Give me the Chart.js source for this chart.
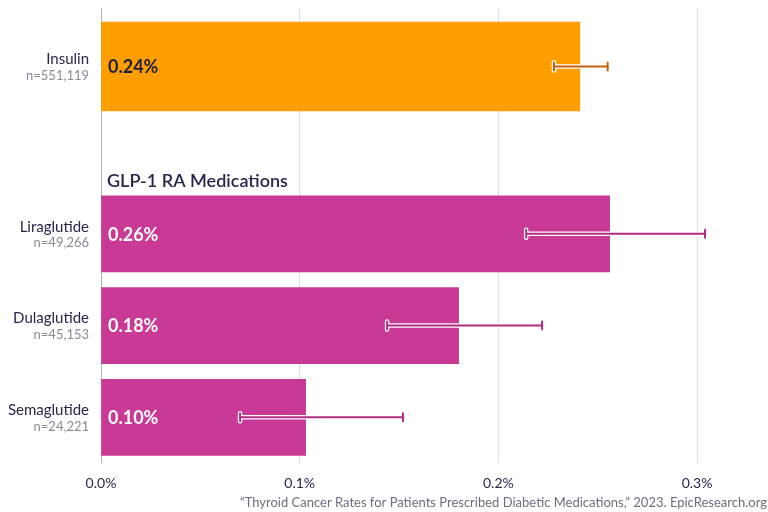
<!DOCTYPE html>
<html>
<head>
<meta charset="utf-8">
<script src="https://cdn.jsdelivr.net/npm/chart.js@4"></script>
<style>
  body { margin: 0; background: #fff; }
  #wrap { position: relative; width: 768px; height: 512px; }
  #wrap canvas { position: absolute; left: 0; }
</style>
</head>
<body>
<div id="wrap">
  <canvas id="topChart" width="768" height="188" style="top:0"></canvas>
  <canvas id="glpChart" width="768" height="324" style="top:188px"></canvas>
</div>
<script>
// Thyroid cancer rate (%) by medication, with confidence interval
const drugs = ['Insulin', 'Liraglutide', 'Dulaglutide', 'Semaglutide'];
const patients = ['n=551,119', 'n=49,266', 'n=45,153', 'n=24,221'];
const rates = [0.241, 0.256, 0.180, 0.103];
const ciLow = [0.228, 0.214, 0.144, 0.070];
const ciHigh = [0.255, 0.304, 0.222, 0.152];
const xTicks = [0, 0.1, 0.2, 0.3];
const glpTitle = 'GLP-1 RA Medications';
const source = '\u201cThyroid Cancer Rates for Patients Prescribed Diabetic Medications,\u201d 2023. EpicResearch.org';

const FONT = 'Lato, "Open Sans", sans-serif';
const INK = '#27284a';

const gridColor = (c) => (c.tick && c.tick.value === 0) ? '#b3b3b3' : '#dddddd';

// labels, error bars and value text for each row
const rowPlugin = {
  id: 'rows',
  afterDatasetsDraw(chart, args, opts) {
    const { ctx, scales: { x, y } } = chart;
    opts.rows.forEach((r, i) => {
      const yc = y.getPixelForValue(i);

      // error bar
      const x0 = x.getPixelForValue(ciLow[r]);
      const x1 = x.getPixelForValue(ciHigh[r]);
      ctx.save();
      ctx.lineCap = 'round';
      ctx.strokeStyle = '#ffffff';
      ctx.lineWidth = 4.5;
      ctx.beginPath();
      ctx.moveTo(x0, yc); ctx.lineTo(x1, yc);
      ctx.moveTo(x0, yc - 4); ctx.lineTo(x0, yc + 4);
      ctx.moveTo(x1, yc - 4); ctx.lineTo(x1, yc + 4);
      ctx.stroke();
      ctx.strokeStyle = opts.whisker;
      ctx.lineWidth = 2;
      ctx.beginPath();
      ctx.moveTo(x0, yc); ctx.lineTo(x1, yc);
      ctx.moveTo(x0, yc - 4); ctx.lineTo(x0, yc + 4);
      ctx.moveTo(x1, yc - 4); ctx.lineTo(x1, yc + 4);
      ctx.stroke();

      // value inside bar
      ctx.font = 'bold 18px ' + FONT;
      ctx.fillStyle = opts.valueColor;
      ctx.textAlign = 'left';
      ctx.textBaseline = 'middle';
      ctx.fillText(rates[r].toFixed(2) + '%', x.getPixelForValue(0) + 7, yc + 1);

      // category + sample size
      ctx.textAlign = 'right';
      ctx.font = '15px ' + FONT;
      ctx.fillStyle = INK;
      ctx.fillText(drugs[r], x.left - 12, yc - 7);
      ctx.font = '13px ' + FONT;
      ctx.fillStyle = '#8a8a98';
      ctx.fillText(patients[r], x.left - 12, yc + 9);
      ctx.restore();
    });
  },
  afterDraw(chart, args, opts) {
    const { ctx, scales: { x } } = chart;
    ctx.save();
    if (opts.header) {
      ctx.font = '600 18px ' + FONT;
      ctx.fillStyle = INK;
      ctx.textAlign = 'left';
      ctx.textBaseline = 'middle';
      ctx.fillText(opts.header, x.getPixelForValue(0) + 6, chart.height - 7);
    }
    if (opts.footnote) {
      ctx.font = '13px ' + FONT;
      ctx.fillStyle = '#6e6e80';
      ctx.textAlign = 'right';
      ctx.textBaseline = 'middle';
      ctx.fillText(opts.footnote, chart.width - 1, chart.height - 9);
    }
    ctx.restore();
  }
};

function makeChart(id, rows, cfg) {
  return new Chart(document.getElementById(id), {
    type: 'bar',
    data: {
      labels: rows.map(r => drugs[r]),
      datasets: [{
        data: rows.map(r => rates[r]),
        backgroundColor: cfg.color,
        barThickness: cfg.thickness,
        borderWidth: 0
      }]
    },
    options: {
      indexAxis: 'y',
      responsive: false,
      animation: false,
      layout: { padding: cfg.padding },
      scales: {
        x: {
          type: 'linear',
          min: 0,
          max: 0.3357,
          afterBuildTicks: (s) => { s.ticks = xTicks.map(v => ({ value: v })); },
          ticks: {
            display: cfg.showTicks,
            padding: 12,
            color: INK,
            font: { family: FONT, size: 14 },
            callback: (v) => Number(v).toFixed(1) + '%'
          },
          grid: {
            color: gridColor,
            drawTicks: cfg.tickLength > 0,
            tickLength: cfg.tickLength
          },
          border: { display: false }
        },
        y: { type: 'category', display: false, offset: true }
      },
      plugins: {
        legend: { display: false },
        tooltip: { enabled: false },
        rows: {
          rows: rows,
          whisker: cfg.whisker,
          valueColor: cfg.valueColor,
          header: cfg.header,
          footnote: cfg.footnote
        }
      }
    },
    plugins: [rowPlugin]
  });
}

makeChart('topChart', [0], {
  color: '#ff9e00',
  whisker: '#c2600c',
  valueColor: '#1f2040',
  thickness: 89,
  padding: { top: 8, left: 101, right: 0, bottom: 0 },
  showTicks: false,
  tickLength: 63,
  header: glpTitle
});

makeChart('glpChart', [1, 2, 3], {
  color: '#c93a96',
  whisker: '#b02c82',
  valueColor: '#ffffff',
  thickness: 76,
  padding: { top: 0, left: 101, right: 0, bottom: 8 },
  showTicks: true,
  tickLength: 0,
  footnote: source
});
</script>
</body>
</html>
